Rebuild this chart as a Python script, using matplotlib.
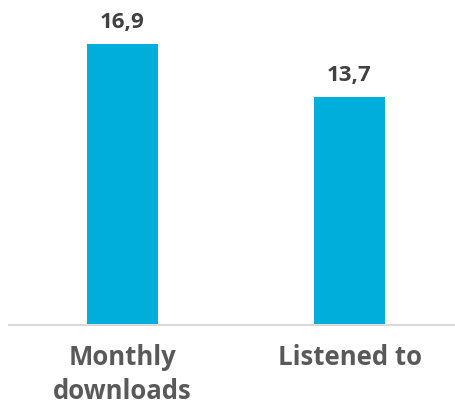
import matplotlib
matplotlib.use("Agg")
import matplotlib.pyplot as plt

categories = ["Monthly\ndownloads", "Listened to"]
values = [16.9, 13.7]
value_labels = ["16,9", "13,7"]

plt.rcParams['font.family'] = ['Open Sans', 'DejaVu Sans']

fig = plt.figure(figsize=(4.56, 4.07), dpi=100)
ax = fig.add_axes([9/456, 82/407, 447/456, 325/407])
x = list(range(len(categories)))
ax.bar(x, values, width=0.313, color="#00AEDB")
ax.set_xlim(-0.5, 1.469)
ax.set_ylim(0, 19.54)
for xi, v, lab in zip(x, values, value_labels):
    ax.annotate(lab, (xi, v), xytext=(0, 8), textcoords="offset points",
                ha="center", va="bottom", fontsize=16, fontweight="bold", color="#404040")
ax.set_xticks(x)
ax.set_xticklabels(categories, fontsize=18.5, fontweight="bold", color="#595959", linespacing=1.3)
ax.tick_params(axis="x", length=0, pad=14)
ax.set_yticks([])
for s in ["top", "right", "left"]:
    ax.spines[s].set_visible(False)
ax.spines["bottom"].set_color("#D9D9D9")
ax.spines["bottom"].set_linewidth(1.5)
fig.savefig("out.png", dpi=100)
